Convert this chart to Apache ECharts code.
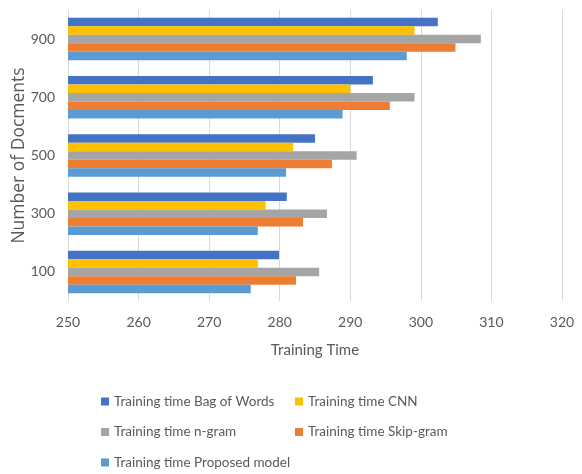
<!DOCTYPE html>
<html>
<head>
<meta charset="utf-8">
<script src="https://cdn.jsdelivr.net/npm/echarts@6/dist/echarts.min.js"></script>
<style>html,body{margin:0;padding:0;background:#fff;}#c{width:582px;height:474px;}</style>
</head>
<body>
<div id="c"></div>
<script>
const categories = ['100', '300', '500', '700', '900'];
const bagOfWords = [279.9, 281.0, 285.0, 293.2, 302.4];
const cnn        = [276.9, 278.0, 281.9, 290.0, 299.1];
const ngram      = [285.6, 286.7, 290.9, 299.1, 308.5];
const skipgram   = [282.3, 283.3, 287.4, 295.6, 304.9];
const proposed   = [275.9, 276.9, 280.9, 288.9, 298.0];
const xTicks = { min: 250, max: 320, interval: 10 };

const names = {
  bow: 'Training time Bag of Words',
  cnn: 'Training time CNN',
  ngram: 'Training time n-gram',
  skip: 'Training time Skip-gram',
  prop: 'Training time Proposed model'
};
const colors = { bow: '#4472C4', cnn: '#FFC000', ngram: '#A5A5A5', skip: '#ED7D31', prop: '#5B9BD5' };
const FONT = 'Lato';
const chart = echarts.init(document.getElementById('c'), null, { renderer: 'canvas' });

function bar(key, data) {
  return {
    name: names[key], type: 'bar', data: data,
    itemStyle: { color: colors[key] },
    barGap: '0%', barCategoryGap: '27%',
    emphasis: { disabled: true }
  };
}

const legendText = { fontFamily: FONT, fontSize: 13.5, color: '#595959' };
chart.setOption({
  animation: false,
  textStyle: { fontFamily: FONT },
  grid: { left: 68, right: 20, top: 10, bottom: 173, containLabel: false, outerBoundsMode: 'none' },
  xAxis: {
    type: 'value', min: xTicks.min, max: xTicks.max, interval: xTicks.interval,
    axisLine: { show: false }, axisTick: { show: false },
    splitLine: { show: true, lineStyle: { color: '#D9D9D9', width: 1 } },
    axisLabel: { margin: 14, fontSize: 14, color: '#595959', fontFamily: FONT },
    name: 'Training Time', nameLocation: 'middle', nameGap: 42, nameMoveOverlap: false,
    nameTextStyle: { fontSize: 15, color: '#595959', fontFamily: FONT }
  },
  yAxis: {
    type: 'category', data: categories,
    axisLine: { show: false }, axisTick: { show: false },
    axisLabel: { margin: 13, fontSize: 14, color: '#595959', fontFamily: FONT },
    name: 'Number of Docments', nameLocation: 'middle', nameRotate: 90, nameGap: 40, nameMoveOverlap: false,
    nameTextStyle: { fontSize: 17.5, color: '#595959', fontFamily: 'Open Sans' }
  },
  legend: [
    {
      data: [names.bow, names.ngram, names.prop], orient: 'vertical',
      left: 101, top: 394.5, itemWidth: 8, itemHeight: 8, itemGap: 16.5,
      icon: 'rect', textStyle: legendText, selectedMode: false, padding: 0
    },
    {
      data: [names.cnn, names.skip], orient: 'vertical',
      left: 295, top: 394.5, itemWidth: 8, itemHeight: 8, itemGap: 16.5,
      icon: 'rect', textStyle: legendText, selectedMode: false, padding: 0
    }
  ],
  series: [
    bar('bow', bagOfWords),
    bar('cnn', cnn),
    bar('ngram', ngram),
    bar('skip', skipgram),
    bar('prop', proposed)
  ]
});
</script>
</body>
</html>
